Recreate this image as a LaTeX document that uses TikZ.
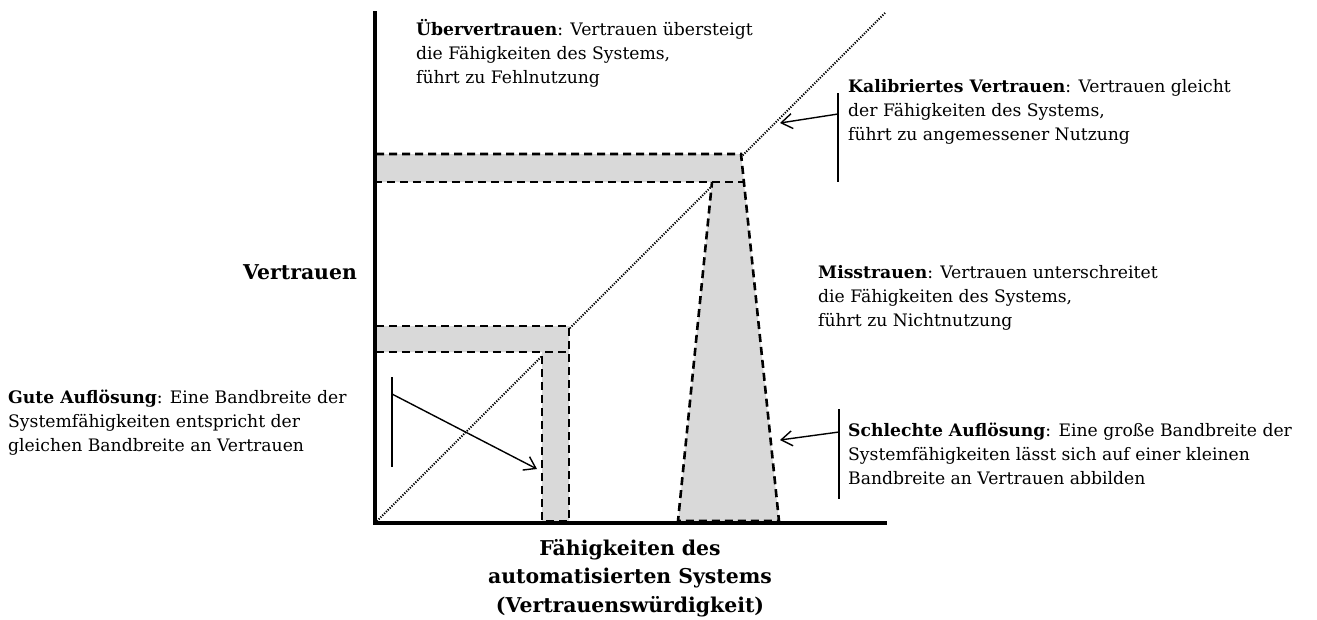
\documentclass[tikz,border=0pt]{standalone}
\usepackage{fontspec}
\setmainfont{DejaVu Serif}
\usetikzlibrary{arrows.meta}
\definecolor{bandfill}{RGB}{217,217,217}
\begin{document}
\begin{tikzpicture}[x=1pt,y=-1pt,
  axis/.style={line width=3.2pt},
  diag/.style={line width=2pt,dash pattern=on 1.2pt off 1.4pt},
  band/.style={fill=bandfill,draw=none},
  bandedge/.style={line width=2.6pt,dash pattern=on 8pt off 5pt},
  pointer/.style={line width=1.4pt,-{Straight Barb[length=11pt,width=15pt,line width=1.4pt]}},
  bracket/.style={line width=1.4pt},
  note/.style={align=left,inner sep=0pt,anchor=base west,font=\fontsize{17.2}{24}\selectfont},
  axislabel/.style={align=center,inner sep=0pt,font=\fontsize{20.4}{28.5}\selectfont\bfseries}]
\useasboundingbox (0,0) rectangle (1317,619);

% axes corner and the ideal calibration line
\coordinate (O) at (375,523);
\coordinate (ytop) at (375,11);
\coordinate (xend) at (887,523);
\coordinate (dtop) at (886,12);
\draw[diag] (O) -- (dtop);

% narrow band: good resolution
\fill[band] (376,326) -- (569,326) -- (569,521) -- (542,521) -- (542,352) -- (376,352) -- cycle;
\draw[bandedge] (376,326) -- (569,326) -- (569,521) -- (542,521) -- (542,352);
\draw[bandedge] (376,326) -- (376,352) -- (569,352);

% wide band: poor resolution
\fill[band] (376,154) -- (741,154) -- (779,521) -- (678,521) -- (712,182) -- (376,182) -- cycle;
\draw[bandedge] (376,154) -- (741,154) -- (779,521) -- (678,521) -- (712,182);
\draw[bandedge] (376,154) -- (376,182) -- (744,182);

% axes
\draw[axis] (ytop) -- (O) -- (xend);

% annotation texts (placed by the baseline of their last line)
\node[note] (over) at (416,83) {\textbf{Übervertrauen}: Vertrauen übersteigt\\die Fähigkeiten des Systems,\\führt zu Fehlnutzung};
\node[note] (calib) at (848,140) {\textbf{Kalibriertes Vertrauen}: Vertrauen gleicht\\der Fähigkeiten des Systems,\\führt zu angemessener Nutzung};
\node[note] (distrust) at (818,326) {\textbf{Misstrauen}: Vertrauen unterschreitet\\die Fähigkeiten des Systems,\\führt zu Nichtnutzung};
\node[note] (poor) at (848,484) {\textbf{Schlechte Auflösung}: Eine große Bandbreite der\\Systemfähigkeiten lässt sich auf einer kleinen\\Bandbreite an Vertrauen abbilden};
\node[note] (good) at (8,451) {\textbf{Gute Auflösung}: Eine Bandbreite der\\Systemfähigkeiten entspricht der\\gleichen Bandbreite an Vertrauen};

% axis labels
\node[axislabel,anchor=base] (ylab) at (300,279) {Vertrauen};
\node[axislabel,anchor=base] (xlab) at (630,612) {Fähigkeiten des\\automatisierten Systems\\(Vertrauenswürdigkeit)};

% brackets and pointers
\coordinate (calibA) at (838,93);
\coordinate (calibB) at (838,182);
\coordinate (calibFrom) at (838,114);
\coordinate (calibTo) at (780,123);
\draw[bracket] (calibA) -- (calibB);
\draw[pointer] (calibFrom) -- (calibTo);

\coordinate (poorA) at (839,409);
\coordinate (poorB) at (839,499);
\coordinate (poorFrom) at (839,432);
\coordinate (poorTo) at (780,440);
\draw[bracket] (poorA) -- (poorB);
\draw[pointer] (poorFrom) -- (poorTo);

\coordinate (goodA) at (392,377);
\coordinate (goodB) at (392,467);
\coordinate (goodFrom) at (392,394);
\coordinate (goodTo) at (537,469);
\draw[bracket] (goodA) -- (goodB);
\draw[pointer] (goodFrom) -- (goodTo);
\end{tikzpicture}
\end{document}
